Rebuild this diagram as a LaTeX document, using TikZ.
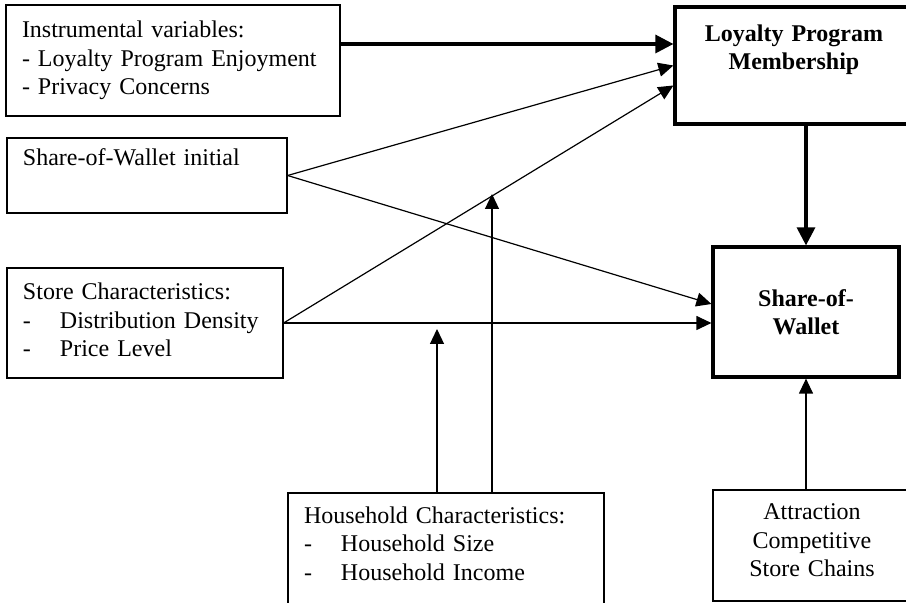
\documentclass[tikz,border=0pt]{standalone}
\usepackage{fontspec}
\setmainfont{Liberation Serif}
\usetikzlibrary{arrows.meta}
\newcommand{\itemdash}{\makebox[18.5pt][l]{-}}
\begin{document}
\begin{tikzpicture}[x=.5pt,y=-.5pt,line width=.6pt,
  font=\fontsize{12}{14.25}\selectfont,
  >={Triangle[length=7.5pt,width=7pt]},
  box/.style={draw,rectangle,inner xsep=8pt,inner ysep=0pt,align=left},
  keybox/.style={draw,rectangle,line width=1.6pt,inner xsep=8pt,inner ysep=0pt,align=center,font=\fontsize{12}{14.25}\selectfont\bfseries},
  thickarrow/.style={line width=1.6pt,-{Triangle[length=9pt,width=9pt]}}]
\path[use as bounding box] (0,0) rectangle (906,603);
\node[box,line width=1pt,text width=151pt,minimum height=55.5pt] (instr) at (173,60.5)
  {Instrumental variables:\\- Loyalty Program Enjoyment\\- Privacy Concerns};
\node[box,text width=124pt,minimum height=37.5pt] (sowi) at (147,175.5)
  {Share-of-Wallet initial\\ \strut};
\node[box,text width=122pt,minimum height=55pt] (store) at (145,323)
  {Store Characteristics:\\\itemdash Distribution Density\\\itemdash Price Level\\[-15.25pt]\strut};
\node[box,text width=142pt,minimum height=61pt] (hh) at (446,554)
  {Household Characteristics:\\\itemdash Household Size\\\itemdash Household Income\\[-8pt]\strut};
\node[keybox,text width=103pt,minimum height=58.5pt] (lpm) at (794,65.5)
  {Loyalty Program\\Membership\\ \strut};
\node[keybox,text width=77pt,minimum height=65pt] (sow) at (806,312)
  {Share-of-\\Wallet};
\node[box,align=center,text width=83pt,minimum height=55.5pt] (att) at (812,545.5)
  {Attraction\\Competitive\\Store Chains\\[-13.25pt]\strut};
\coordinate (lpm-a) at ([yshift=10.75pt]lpm.west);
\coordinate (lpm-c) at ([yshift=-10pt]lpm.west);
\coordinate (sow-a) at ([yshift=4pt]sow.west);
\coordinate (sow-b) at ([yshift=-5.5pt]sow.west);
\coordinate (hh-a) at ([xshift=-4.5pt]hh.north);
\coordinate (hh-b) at ([xshift=23pt]hh.north);
\coordinate (mod-a) at (437,329);
\coordinate (mod-b) at (492,194);
\draw[thickarrow] (instr.east |- lpm-a) -- (lpm-a);
\draw[->] (sowi.east) -- (lpm.west);
\draw[->] (sowi.east) -- (sow-a);
\draw[->] (store.east) -- (lpm-c);
\draw[->] (store.east) -- (sow-b);
\draw[->] (hh-a) -- (mod-a);
\draw[->] (hh-b) -- (mod-b);
\draw[thickarrow] (sow.north |- lpm.south) -- (sow.north);
\draw[->] (sow.south |- att.north) -- (sow.south);
\end{tikzpicture}
\end{document}
